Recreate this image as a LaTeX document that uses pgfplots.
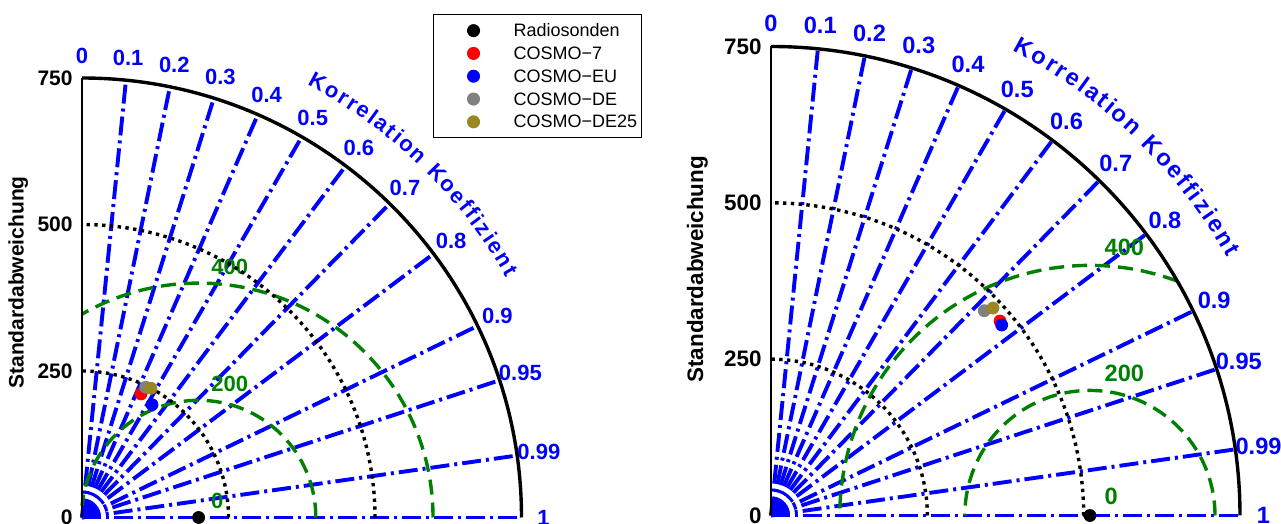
\documentclass[border=0pt]{standalone}
\usepackage{fontspec}
\setmainfont{Liberation Sans}
\usepackage{pgfplots}
\pgfplotsset{compat=1.18}
\usetikzlibrary{decorations.text}

\definecolor{rmsgreen}{rgb}{0,0.5,0}
\definecolor{dotgray}{rgb}{0.5,0.5,0.5}
\definecolor{dotolive}{rgb}{0.6,0.53,0.12}

\tikzset{
  corrline/.style={blue, line width=1.95pt, dash pattern=on 9.5pt off 2.5pt on 1.5pt off 2.5pt},
  rmsline/.style={rmsgreen, line width=1.7pt, dash pattern=on 7.5pt off 4pt},
  stdline/.style={black, line width=1.7pt, dash pattern=on 1.7pt off 2.2pt},
  frameline/.style={black, line width=1.7pt},
}

\pgfplotsset{
  taylor/.style={
    anchor=origin,
    xmin=0, xmax=750, ymin=0, ymax=750,
    clip=false,
    axis x line=none, axis y line=left,
    y axis line style={draw=none},
    ytick={0,250,500,750},
    major tick length=0pt,
    /pgf/number format/assume math mode=true,
    yticklabel style={font=\bfseries\fontsize{#1}{#1}\selectfont, inner xsep=4.5pt},
    ylabel={Standardabweichung},
    ylabel style={anchor=center, font=\bfseries\fontsize{#1}{#1}\selectfont},
  },
}

\begin{document}
\begin{tikzpicture}
\useasboundingbox (0pt,0pt) rectangle (640.5pt,262pt);

% ---------------- left diagram ----------------
\begin{axis}[
  taylor=10.5,
  at={(41pt,3.25pt)},
  x=0.293pt, y=0.293pt,
  ylabel style={at={(axis description cs:-0.1453,0.535)}},
  legend style={at={(axis description cs:0.7987,1.1453)}, anchor=north west,
    draw=black, line width=0.5pt,
    font=\fontsize{9}{9}\selectfont,
    inner xsep=0pt, inner ysep=3.5pt, row sep=2.4pt,
    nodes={inner xsep=2pt, inner ysep=0pt, text height=7.5pt, text depth=1.5pt},
    /tikz/every odd column/.append style={column sep=0pt},
    /tikz/every even column/.append style={column sep=0pt}},
  legend cell align=left,
  legend image code/.code={\path[draw=none] (0pt,0pt) -- (38pt,0pt); \draw[#1] plot coordinates {(20pt,0pt)};},
]
% correlation rays and their labels
\pgfplotsinvokeforeach{0.1,0.2,0.3,0.4,0.5,0.6,0.7,0.8,0.9,0.95,0.99,1}{
  \draw[corrline] (axis cs:0,0) -- (axis cs:{750*#1},{750*sqrt(1-#1*#1)});
}
\pgfplotsinvokeforeach{0,0.1,0.2,0.3,0.4,0.5,0.6,0.7,0.8,0.9,0.95,0.99,1}{
  \node[blue, font=\bfseries\fontsize{11}{11}\selectfont]
    at (axis cs:{787.5*#1},{787.5*sqrt(1-#1*#1)}) {#1};
}
% centred RMS difference around the reference (std = 199)
\draw[rmsline] (axis cs:399,0) arc[start angle=0, end angle=174.3, radius=200*0.293pt];
\draw[rmsline] (axis cs:599,0) arc[start angle=0, end angle=119.8, radius=400*0.293pt];
\node[rmsgreen, font=\bfseries\fontsize{11}{11}\selectfont] at (axis cs:252,428) {400};
\node[rmsgreen, font=\bfseries\fontsize{11}{11}\selectfont] at (axis cs:252,228) {200};
\node[rmsgreen, font=\bfseries\fontsize{11}{11}\selectfont] at (axis cs:231,28) {0};
% standard deviation arcs
\draw[stdline] (axis cs:250,0) arc[start angle=0, end angle=90, radius=250*0.293pt];
\draw[stdline] (axis cs:500,0) arc[start angle=0, end angle=90, radius=500*0.293pt];
\draw[frameline] (axis cs:750,0) arc[start angle=0, end angle=90, radius=750*0.293pt];
\draw[black, line width=1.4pt] (axis cs:0,0) -- (axis cs:0,750);
% axis title along the outer arc
\path[decorate, decoration={text along path, text align={fit to path},
  text={|\color{blue}\bfseries\fontsize{11}{11}\selectfont|Korrelation Koeffizient}}]
  (axis cs:{832*cos(62.5)},{832*sin(62.5)}) arc[start angle=62.5, end angle=29.5, radius=832*0.293pt];

\addplot[only marks, mark=*, mark size=3pt, black] coordinates {(199,0)};
\addlegendentry{Radiosonden}
\addplot[only marks, mark=*, mark size=3pt, red] coordinates {(100.7,210.8)};
\addlegendentry{COSMO−7}
\addplot[only marks, mark=*, mark size=3pt, blue] coordinates {(119.5,192.5)};
\addlegendentry{COSMO−EU}
\addplot[only marks, mark=*, mark size=3pt, dotgray] coordinates {(108.7,222.2)};
\addlegendentry{COSMO−DE}
\addplot[only marks, mark=*, mark size=3pt, dotolive] coordinates {(117.7,220.5)};
\addlegendentry{COSMO−DE25}
\end{axis}

% ---------------- right diagram ----------------
\begin{axis}[
  taylor=11.2,
  at={(385.5pt,4.25pt)},
  x=0.31267pt, y=0.31267pt,
  ylabel style={at={(axis description cs:-0.157,0.525)}},
]
\pgfplotsinvokeforeach{0.1,0.2,0.3,0.4,0.5,0.6,0.7,0.8,0.9,0.95,0.99,1}{
  \draw[corrline] (axis cs:0,0) -- (axis cs:{750*#1},{750*sqrt(1-#1*#1)});
}
\pgfplotsinvokeforeach{0,0.1,0.2,0.3,0.4,0.5,0.6,0.7,0.8,0.9,0.95,0.99,1}{
  \node[blue, font=\bfseries\fontsize{11.8}{11.8}\selectfont]
    at (axis cs:{787.5*#1},{787.5*sqrt(1-#1*#1)}) {#1};
}
% centred RMS difference around the reference (std = 510)
\draw[rmsline] (axis cs:710,0) arc[start angle=0, end angle=180, radius=200*0.31267pt];
\draw[rmsline] (axis cs:{510+400*cos(69.57)},{400*sin(69.57)}) arc[start angle=69.57, end angle=180, radius=400*0.31267pt];
\node[rmsgreen, font=\bfseries\fontsize{11.8}{11.8}\selectfont] at (axis cs:565,428) {400};
\node[rmsgreen, font=\bfseries\fontsize{11.8}{11.8}\selectfont] at (axis cs:565,228) {200};
\node[rmsgreen, font=\bfseries\fontsize{11.8}{11.8}\selectfont] at (axis cs:544,30) {0};
\draw[stdline] (axis cs:250,0) arc[start angle=0, end angle=90, radius=250*0.31267pt];
\draw[stdline] (axis cs:500,0) arc[start angle=0, end angle=90, radius=500*0.31267pt];
\draw[frameline] (axis cs:750,0) arc[start angle=0, end angle=90, radius=750*0.31267pt];
\draw[black, line width=1.4pt] (axis cs:0,0) -- (axis cs:0,750);
\path[decorate, decoration={text along path, text align={fit to path},
  text={|\color{blue}\bfseries\fontsize{11.8}{11.8}\selectfont|Korrelation Koeffizient}}]
  (axis cs:{838*cos(62.5)},{838*sin(62.5)}) arc[start angle=62.5, end angle=29.5, radius=838*0.31267pt];

\addplot[only marks, mark=*, mark size=3pt, black] coordinates {(510,0)};
\addplot[only marks, mark=*, mark size=3pt, red] coordinates {(366.2,311.0)};
\addplot[only marks, mark=*, mark size=3pt, blue] coordinates {(368.9,304.6)};
\addplot[only marks, mark=*, mark size=3pt, dotgray] coordinates {(341.1,327.5)};
\addplot[only marks, mark=*, mark size=3pt, dotolive] coordinates {(355.0,331.8)};
\end{axis}
\end{tikzpicture}
\end{document}
